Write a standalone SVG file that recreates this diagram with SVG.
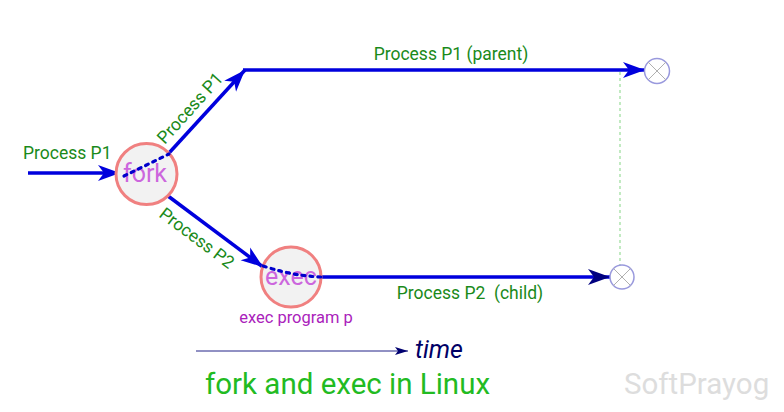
<svg xmlns="http://www.w3.org/2000/svg" width="784" height="412" viewBox="0 0 784 412">
<defs>
<style>
.lbl{font-family:Roboto,"Liberation Sans",sans-serif;font-size:17.5px;fill:#1a8a1a}
.flow{stroke:#0000dd;stroke-width:3.5;fill:none}
.dot{stroke:#0000cc;stroke-width:3.2;fill:none;stroke-dasharray:3 5;stroke-linecap:round}
.proc{fill:#f2f2f2;stroke:#f08080;stroke-width:3}
.ptxt{font-family:Roboto,"Liberation Sans",sans-serif;font-size:25px;fill:#cc66dd;text-anchor:middle}
.end{fill:#fff;stroke:#9999dd;stroke-width:1.5}
.x{stroke:#b0b0b0;stroke-width:1}
</style>
<marker id="ah" markerUnits="userSpaceOnUse" markerWidth="24" markerHeight="18" refX="22" refY="9" orient="auto">
<path d="M0,1 L22,9 L0,17 L6,9 z" fill="#0000dd"/>
</marker>
<marker id="ahn" markerUnits="userSpaceOnUse" markerWidth="24" markerHeight="18" refX="22" refY="9" orient="auto">
<path d="M0,1 L22,9 L0,17 L6,9 z" fill="#000080"/>
</marker>
<marker id="ahs" markerUnits="userSpaceOnUse" markerWidth="14" markerHeight="10" refX="13" refY="5" orient="auto">
<path d="M0,1 L13,5 L0,9 L3,5 z" fill="#000070"/>
</marker>
</defs>
<rect width="784" height="412" fill="#fff"/>

<g id="connectors">
<line class="flow" x1="28" y1="173" x2="120" y2="173" marker-end="url(#ah)"/>
<line class="flow" x1="169" y1="153" x2="245" y2="70" marker-end="url(#ah)"/>
<line class="flow" x1="243" y1="70" x2="645" y2="70" marker-end="url(#ah)"/>
<line class="flow" x1="168" y1="196" x2="263" y2="267" marker-end="url(#ah)"/>
<line class="flow" x1="320" y1="277" x2="610" y2="277" marker-end="url(#ahn)"/>
<line x1="620" y1="72" x2="620" y2="265" stroke="#99dd99" stroke-width="1.2" stroke-dasharray="3 3"/>
<line x1="196" y1="351" x2="408" y2="351" stroke="#222288" stroke-width="1" marker-end="url(#ahs)"/>
</g>

<g id="fork">
<circle class="proc" cx="146.5" cy="174" r="30.5"/>
<text class="ptxt" x="145" y="182">fork</text>
<line class="dot" x1="124" y1="176" x2="169" y2="154"/>
</g>

<g id="exec">
<circle class="proc" cx="291" cy="277" r="30"/>
<text class="ptxt" x="291" y="285">exec</text>
<path class="dot" d="M263,266 Q285,273 300,275 T321,277"/>
</g>

<g id="end-p1">
<circle class="end" cx="657" cy="71" r="12.5"/>
<line class="x" x1="648" y1="62" x2="666" y2="80"/>
<line class="x" x1="666" y1="62" x2="648" y2="80"/>
</g>

<g id="end-p2">
<circle class="end" cx="622" cy="277" r="12"/>
<line class="x" x1="613.5" y1="268.5" x2="630.5" y2="285.5"/>
<line class="x" x1="630.5" y1="268.5" x2="613.5" y2="285.5"/>
</g>

<g id="labels">
<text class="lbl" x="23" y="159">Process P1</text>
<text class="lbl" x="451" y="60" text-anchor="middle">Process P1 (parent)</text>
<text class="lbl" x="470" y="299" text-anchor="middle" xml:space="preserve">Process P2  (child)</text>
<text class="lbl" text-anchor="middle" transform="translate(190,108) rotate(-48)" x="0" y="6">Process P1</text>
<text class="lbl" text-anchor="middle" transform="translate(197,238) rotate(37)" x="0" y="6">Process P2</text>
<text x="296" y="323" text-anchor="middle" font-family="Roboto,'Liberation Sans',sans-serif" font-size="16.5" fill="#aa22bb">exec program p</text>
<text x="415" y="358" font-family="Roboto,'Liberation Sans',sans-serif" font-size="25" font-style="italic" fill="#000066">time</text>
<text x="205" y="394" font-family="Roboto,'Liberation Sans',sans-serif" font-size="29.5" fill="#22bb22">fork and exec in Linux</text>
<text x="624" y="394" font-family="Roboto,'Liberation Sans',sans-serif" font-size="29.5" fill="#dddddd">SoftPrayog</text>
</g>
</svg>
